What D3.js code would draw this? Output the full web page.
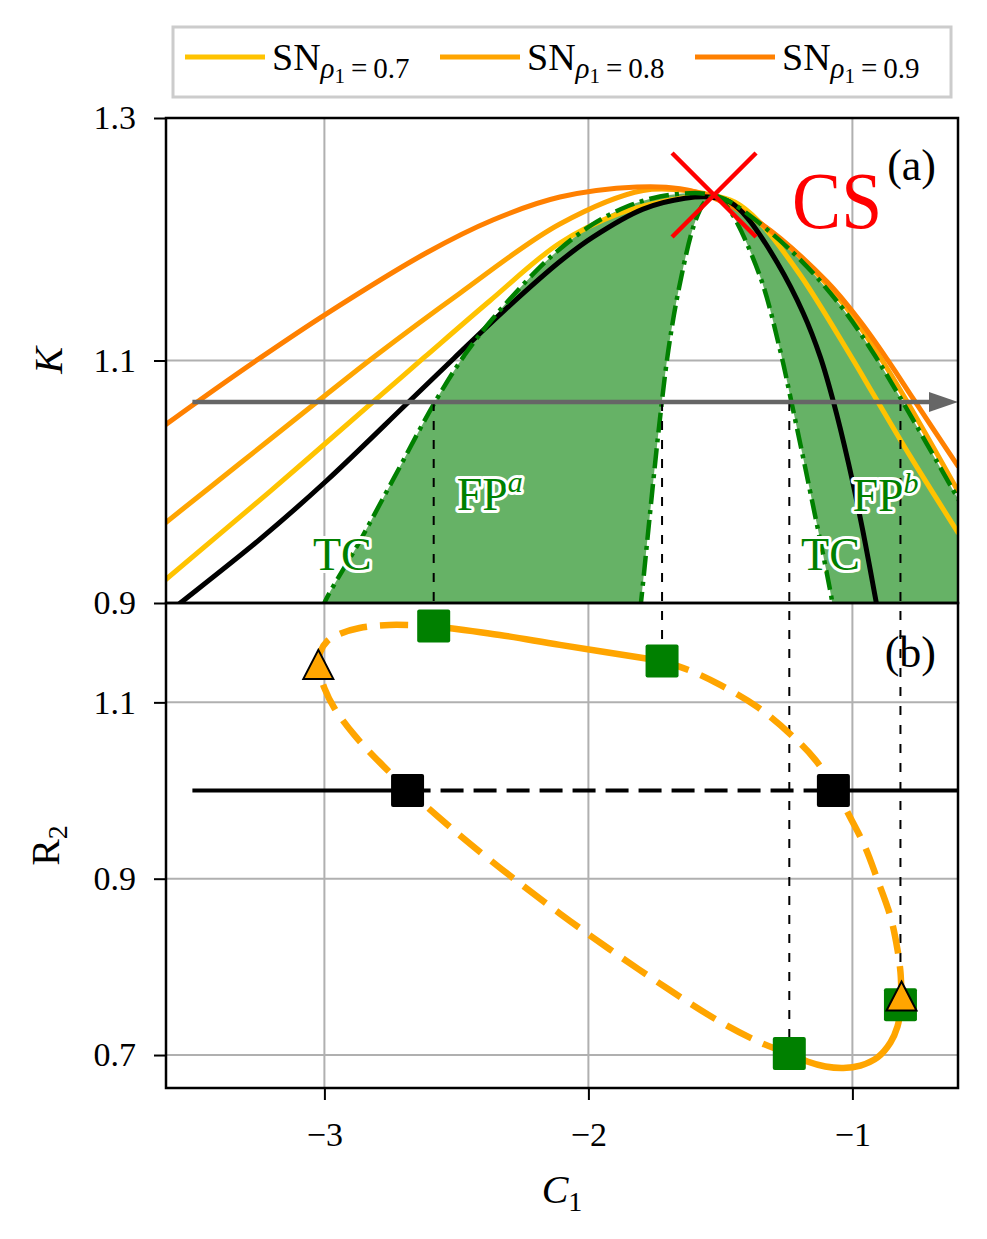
<!DOCTYPE html>
<html>
<head>
<meta charset="utf-8">
<script src="https://cdn.jsdelivr.net/npm/d3@7"></script>
<style>
  body { margin: 0; background: #fff; }
  svg text { font-family: "Liberation Serif", "DejaVu Serif", serif; }
</style>
</head>
<body>
<svg id="chart" width="987" height="1239"></svg>
<script>
// ---------- data ----------
const cTicks = [-3, -2, -1];
const kTicks = [0.9, 1.1, 1.3];
const r2Ticks = [0.7, 0.9, 1.1];
const rhoLabels = ["0.7", "0.8", "0.9"];

// panel (a): K vs C1
const snRho07 = [[-3.603,0.919],[-3.209,0.9915],[-2.818,1.0654],[-2.620,1.1029],[-2.374,1.1491],[-2.108,1.1969],
  [-1.880,1.2216],[-1.710,1.2315],[-1.615,1.2348],[-1.524,1.2357],[-1.444,1.2305],[-1.357,1.2153],[-1.197,1.1703],
  [-1.008,1.1043],[-0.920,1.072],[-0.780,1.0207],[-0.598,0.9574]];
const snRho08 = [[-3.603,0.966],[-3.323,1.0146],[-3.019,1.0674],[-2.810,1.1033],[-2.488,1.1553],[-2.108,1.2126],
  [-1.793,1.2402],[-1.615,1.2398],[-1.524,1.2353],[-1.444,1.2274],[-1.213,1.1887],[-1.034,1.1466],[-0.913,1.1087],
  [-0.803,1.0699],[-0.598,0.9915]];
const snRho09 = [[-3.603,1.0468],[-3.486,1.0652],[-3.247,1.1016],[-3.000,1.1375],[-2.613,1.1889],[-2.362,1.2159],
  [-2.108,1.2348],[-1.816,1.2431],[-1.653,1.2417],[-1.528,1.2343],[-1.349,1.2134],[-1.095,1.1647],[-0.970,1.1321],
  [-0.863,1.0993],[-0.768,1.0679],[-0.598,1.0122]];
const kBlack = [[-3.584,0.8934],[-3.546,0.900],[-3.247,0.9521],[-2.992,1.0008],[-2.689,1.0641],[-2.510,1.1017],
  [-2.317,1.1416],[-2.108,1.1816],[-1.983,1.2017],[-1.793,1.2248],[-1.634,1.2338],[-1.524,1.2345],[-1.463,1.2306],
  [-1.399,1.2179],[-1.285,1.1808],[-1.186,1.139],[-1.121,1.1026],[-1.072,1.0661],[-1.015,1.0155],[-0.962,0.9612],
  [-0.913,0.9044],[-0.894,0.8819]];
// boundaries of the shaded region (all meet at CS)
const tcLeft = [[-3.008,0.893],[-3.000,0.900],[-2.867,0.9505],[-2.742,1.0009],[-2.583,1.065],[-2.469,1.1045],
  [-2.362,1.1346],[-2.195,1.1745],[-2.108,1.192],[-1.983,1.2124],[-1.854,1.227],[-1.729,1.2352],[-1.596,1.2381],[-1.524,1.2365]];
const tcRight = [[-1.524,1.2365],[-1.452,1.2294],[-1.224,1.1888],[-1.046,1.1455],[-0.924,1.1072],[-0.818,1.0691],
  [-0.602,0.9868],[-0.583,0.9797]];
const fpLeft = [[-1.805,0.893],[-1.801,0.900],[-1.768,0.9709],[-1.735,1.0402],[-1.697,1.1087],[-1.656,1.1606],
  [-1.600,1.2118],[-1.562,1.2299],[-1.524,1.2365]];
const fpRight = [[-1.524,1.2365],[-1.501,1.2324],[-1.460,1.2225],[-1.349,1.1689],[-1.274,1.1087],[-1.227,1.0617],
  [-1.169,1.0014],[-1.076,0.900],[-1.073,0.893]];
const csPoint = [-1.524, 1.2365];
const arrowK = 1.0658;
const arrowC = [-3.5, -0.6];
const regionLabels = [
  { name: "TC", sup: "", c: -2.932, k: 0.927, anchor: "middle" },
  { name: "FP", sup: "a", c: -2.499, k: 0.977, anchor: "start" },
  { name: "TC", sup: "", c: -1.083, k: 0.927, anchor: "middle" },
  { name: "FP", sup: "b", c: -1.000, k: 0.976, anchor: "start" }
];

// panel (b): R2 vs C1, closed loop split into solid / dashed pieces
const r2DashTop = [[-3.0228,1.1425],[-3.0152,1.1572],[-2.9886,1.1697],[-2.9431,1.1776],[-2.8672,1.1844],
  [-2.7533,1.1878],[-2.5863,1.1867]];
const r2SolidTop = [[-2.5863,1.1867],[-2.3359,1.1765],[-2.1082,1.1652],[-1.7211,1.1470]];
const r2DashRight = [[-1.7211,1.1470],[-1.6034,1.1346],[-1.5009,1.1198],[-1.3605,1.0949],[-1.2239,1.0609],
  [-1.1404,1.0348],[-1.0645,1.0008],[-1.0076,0.9691],[-0.9507,0.9351],[-0.9051,0.8989],[-0.8558,0.8569],
  [-0.8292,0.8195],[-0.8178,0.7935],[-0.8140,0.7663]];
const r2SolidBottom = [[-0.8140,0.7663],[-0.8178,0.7516],[-0.8292,0.7323],[-0.8558,0.7142],[-0.9051,0.6972],
  [-0.9696,0.6881],[-1.0342,0.6853],[-1.1025,0.6870],[-1.1708,0.6926],[-1.2391,0.7017]];
const r2DashBottom = [[-1.2391,0.7017],[-1.3491,0.7142],[-1.5009,0.7377],[-1.6907,0.7734],[-1.9184,0.8197],
  [-2.1082,0.8605],[-2.2865,0.9009],[-2.4497,0.9399],[-2.5636,0.9688],[-2.6850,1.0014],[-2.7913,1.0322],
  [-2.8861,1.0628],[-2.9620,1.0934],[-3.0000,1.1161],[-3.0190,1.1359],[-3.0228,1.1425]];
const greenSquares = [[-2.586,1.1867],[-1.721,1.147],[-1.239,0.7017],[-0.818,0.757]];
const blackSquares = [[-2.685,1.0],[-1.072,1.0]];
const triangles = [[-3.023,1.1425],[-0.814,0.7663]];
const r2Level = 1.0;
const r2LineC = [-3.5, -0.6];

// ---------- layout ----------
const left = 166, right = 958, topA = 118, midY = 603, botB = 1088;
const rhoColors = ["#ffc300", "#ffa500", "#ff8000"];
const green = "#008000";

const svg = d3.select("#chart");
const x = d3.scaleLinear().domain([-3.6, -0.6]).range([left, right]);
const yA = d3.scaleLinear().domain([0.9, 1.3]).range([midY, topA]);
const yB = d3.scaleLinear().domain([0.6626, 1.2127]).range([botB, midY]);

const lineA = d3.line().x(d => x(d[0])).y(d => yA(d[1])).curve(d3.curveCatmullRom.alpha(0.5));
const lineB = d3.line().x(d => x(d[0])).y(d => yB(d[1])).curve(d3.curveCatmullRom.alpha(0.5));

const defs = svg.append("defs");
defs.append("clipPath").attr("id", "clipA").append("rect")
  .attr("x", left).attr("y", topA).attr("width", right - left).attr("height", midY - topA);
defs.append("clipPath").attr("id", "clipB").append("rect")
  .attr("x", left).attr("y", midY).attr("width", right - left).attr("height", botB - midY);

// grid
const grid = svg.append("g").attr("stroke", "#b0b0b0").attr("stroke-width", 2);
cTicks.forEach(c => grid.append("line").attr("x1", x(c)).attr("x2", x(c)).attr("y1", topA).attr("y2", botB));
kTicks.forEach(k => grid.append("line").attr("x1", left).attr("x2", right).attr("y1", yA(k)).attr("y2", yA(k)));
r2Ticks.forEach(r => grid.append("line").attr("x1", left).attr("x2", right).attr("y1", yB(r)).attr("y2", yB(r)));

// ---------- panel (a) ----------
const pa = svg.append("g").attr("clip-path", "url(#clipA)");

const chain = p => p.replace(/^M/, "L");
const fillPath = lineA(tcLeft) + chain(lineA(tcRight)) +
  "L" + x(x.domain()[1] + 0.05) + "," + yA(yA.domain()[0] - 0.01) +
  chain(lineA(fpRight.slice().reverse())) + chain(lineA(fpLeft.slice().reverse())) + "Z";
pa.append("path").attr("d", fillPath).attr("fill", "#66b266");

[snRho07, snRho08, snRho09].forEach((s, i) => {
  pa.append("path").attr("d", lineA(s)).attr("fill", "none")
    .attr("stroke", rhoColors[i]).attr("stroke-width", 5);
});
pa.append("path").attr("d", lineA(kBlack)).attr("fill", "none").attr("stroke", "#000").attr("stroke-width", 5);

[tcLeft, tcRight, fpLeft, fpRight].forEach(s => {
  pa.append("path").attr("d", lineA(s)).attr("fill", "none")
    .attr("stroke", green).attr("stroke-width", 4.5).attr("stroke-dasharray", "20,6,4,6");
});

// vertical guides from the arrow down to the squares in (b)
greenSquares.forEach(d => {
  svg.append("line").attr("x1", x(d[0])).attr("x2", x(d[0]))
    .attr("y1", yA(arrowK)).attr("y2", yB(d[1]))
    .attr("stroke", "#000").attr("stroke-width", 2).attr("stroke-dasharray", "9,10");
});

// arrow
const ax0 = x(arrowC[0]), ax1 = x(arrowC[1]), ay = yA(arrowK);
svg.append("line").attr("x1", ax0).attr("x2", ax1 - 26).attr("y1", ay).attr("y2", ay)
  .attr("stroke", "#666").attr("stroke-width", 4.5);
svg.append("path").attr("d", `M${ax1},${ay}L${ax1 - 29},${ay - 10}L${ax1 - 29},${ay + 10}Z`).attr("fill", "#666");

// region labels
regionLabels.forEach(l => {
  const t = svg.append("text").attr("x", x(l.c)).attr("y", yA(l.k))
    .attr("text-anchor", l.anchor).attr("font-size", 46)
    .attr("fill", green).attr("stroke", "#fff").attr("stroke-width", 6)
    .attr("stroke-linejoin", "round").attr("paint-order", "stroke");
  t.append("tspan").text(l.name);
  if (l.sup) t.append("tspan").attr("dy", -18).attr("font-size", 30).attr("font-style", "italic").text(l.sup);
});

// CS marker
const csx = x(csPoint[0]), csy = yA(csPoint[1]);
svg.append("path").attr("d", `M${csx - 42},${csy - 42}L${csx + 42},${csy + 42}M${csx - 42},${csy + 42}L${csx + 42},${csy - 42}`)
  .attr("stroke", "red").attr("stroke-width", 4.5);
svg.append("text").attr("x", csx + 78).attr("y", csy + 33).attr("font-size", 80)
  .attr("textLength", 90).attr("lengthAdjust", "spacingAndGlyphs").attr("fill", "red").text("CS");

svg.append("text").attr("x", 936).attr("y", 180).attr("text-anchor", "end").attr("font-size", 44).text("(a)");

// ---------- panel (b) ----------
const pb = svg.append("g").attr("clip-path", "url(#clipB)");
const orange = rhoColors[1];
[r2DashTop, r2DashRight, r2DashBottom].forEach(s => {
  pb.append("path").attr("d", lineB(s)).attr("fill", "none").attr("stroke", orange)
    .attr("stroke-width", 6.5).attr("stroke-dasharray", "28,13");
});
[r2SolidTop, r2SolidBottom].forEach(s => {
  pb.append("path").attr("d", lineB(s)).attr("fill", "none").attr("stroke", orange).attr("stroke-width", 6.5);
});

const yl = yB(r2Level);
pb.append("line").attr("x1", x(r2LineC[0])).attr("x2", x(blackSquares[0][0])).attr("y1", yl).attr("y2", yl)
  .attr("stroke", "#000").attr("stroke-width", 4);
pb.append("line").attr("x1", x(blackSquares[0][0])).attr("x2", x(blackSquares[1][0])).attr("y1", yl).attr("y2", yl)
  .attr("stroke", "#000").attr("stroke-width", 4).attr("stroke-dasharray", "23,10");
pb.append("line").attr("x1", x(blackSquares[1][0])).attr("x2", x(r2LineC[1])).attr("y1", yl).attr("y2", yl)
  .attr("stroke", "#000").attr("stroke-width", 4);

const sq = 33;
svg.selectAll(".gsq").data(greenSquares).enter().append("rect").attr("class", "gsq")
  .attr("x", d => x(d[0]) - sq / 2).attr("y", d => yB(d[1]) - sq / 2)
  .attr("width", sq).attr("height", sq).attr("rx", 2).attr("fill", green);
svg.selectAll(".bsq").data(blackSquares).enter().append("rect").attr("class", "bsq")
  .attr("x", d => x(d[0]) - sq / 2).attr("y", d => yB(d[1]) - sq / 2)
  .attr("width", sq).attr("height", sq).attr("rx", 2).attr("fill", "#000");
svg.selectAll(".tri").data(triangles).enter().append("path").attr("class", "tri")
  .attr("transform", d => `translate(${x(d[0])},${yB(d[1])})`)
  .attr("d", "M0,-15L15,14L-15,14Z").attr("fill", orange).attr("stroke", "#000").attr("stroke-width", 2);

svg.append("text").attr("x", 936).attr("y", 667).attr("text-anchor", "end").attr("font-size", 44).text("(b)");

// ---------- axes & spines ----------
const styleAxis = g => {
  g.attr("font-family", null).attr("font-size", null);
  g.select(".domain").remove();
  g.selectAll(".tick line").attr("stroke", "#000").attr("stroke-width", 2);
  g.selectAll(".tick text").attr("font-size", 34).attr("fill", "#000");
};
svg.append("g").attr("transform", `translate(${left},0)`)
  .call(d3.axisLeft(yA).tickValues(kTicks).tickFormat(d3.format(".1f")).tickSize(12).tickPadding(18))
  .call(styleAxis);
svg.append("g").attr("transform", `translate(${left},0)`)
  .call(d3.axisLeft(yB).tickValues(r2Ticks).tickFormat(d3.format(".1f")).tickSize(12).tickPadding(18))
  .call(styleAxis);
svg.append("g").attr("transform", `translate(0,${botB})`)
  .call(d3.axisBottom(x).tickValues(cTicks).tickFormat(d3.format("d")).tickSize(12).tickPadding(22))
  .call(styleAxis);

svg.append("rect").attr("x", left).attr("y", topA).attr("width", right - left).attr("height", midY - topA)
  .attr("fill", "none").attr("stroke", "#000").attr("stroke-width", 2.5);
svg.append("rect").attr("x", left).attr("y", midY).attr("width", right - left).attr("height", botB - midY)
  .attr("fill", "none").attr("stroke", "#000").attr("stroke-width", 2.5);

// axis labels
svg.append("text").attr("transform", `translate(62,${(topA + midY) / 2}) rotate(-90)`)
  .attr("text-anchor", "middle").attr("font-size", 40).attr("font-style", "italic").text("K");
const r2Lab = svg.append("text").attr("transform", `translate(59,${(midY + botB) / 2}) rotate(-90)`)
  .attr("text-anchor", "middle").attr("font-size", 40);
r2Lab.append("tspan").text("R");
r2Lab.append("tspan").attr("dy", 8).attr("font-size", 28).text("2");
const cLab = svg.append("text").attr("x", (left + right) / 2).attr("y", 1203)
  .attr("text-anchor", "middle").attr("font-size", 40);
cLab.append("tspan").attr("font-style", "italic").text("C");
cLab.append("tspan").attr("dy", 8).attr("font-size", 28).text("1");

// ---------- legend ----------
const leg = svg.append("g");
leg.append("rect").attr("x", 173).attr("y", 27).attr("width", 778).attr("height", 70)
  .attr("fill", "#fff").attr("stroke", "#cccccc").attr("stroke-width", 3);
rhoLabels.forEach((r, i) => {
  const x0 = 185 + i * 255;
  leg.append("line").attr("x1", x0).attr("x2", x0 + 80).attr("y1", 57).attr("y2", 57)
    .attr("stroke", rhoColors[i]).attr("stroke-width", 5);
  const t = leg.append("text").attr("x", x0 + 87).attr("y", 70).attr("font-size", 38);
  t.append("tspan").text("SN");
  t.append("tspan").attr("dy", 8).attr("font-size", 29).attr("font-style", "italic").text("ρ");
  t.append("tspan").attr("dy", 5).attr("font-size", 21).text("1");
  t.append("tspan").attr("dy", -5).attr("dx", 6).attr("font-size", 29).text("=");
  t.append("tspan").attr("dx", 6).attr("font-size", 29).text(r);
});
</script>
</body>
</html>
